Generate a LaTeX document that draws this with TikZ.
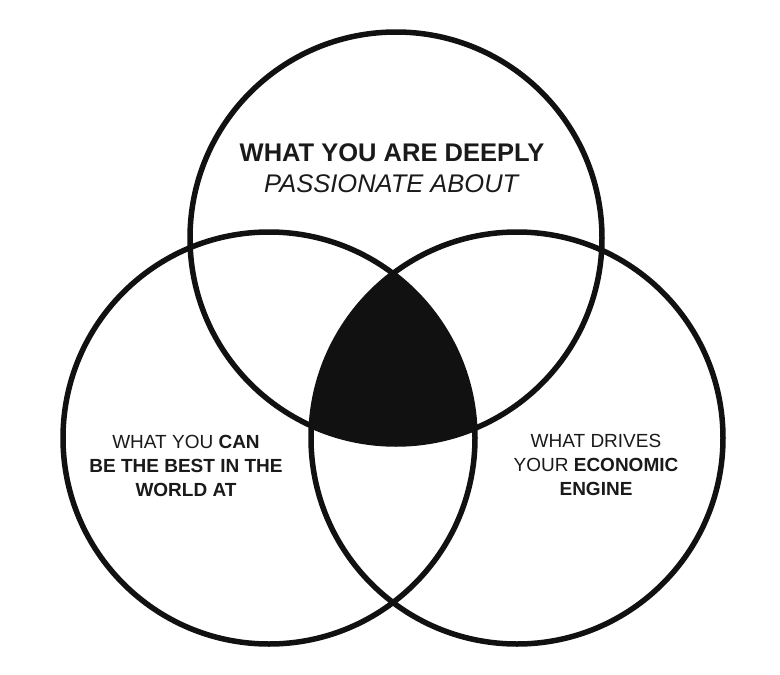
\documentclass[tikz,border=0pt]{standalone}
\usepackage{fontspec}
\setmainfont{Liberation Sans}
\begin{document}
\begin{tikzpicture}[x=1pt,y=-1pt,
  ring/.style={draw=inkc,line width=5.5pt},
  biglabel/.style={text=txtc,align=center,inner sep=0pt,font=\fontsize{25.5}{31}\selectfont},
  smalllabel/.style={text=txtc,align=center,inner sep=0pt,font=\fontsize{19}{24}\selectfont}]
\definecolor{inkc}{HTML}{111111}
\definecolor{txtc}{HTML}{1A1A1A}
\useasboundingbox (0,0) rectangle (780,675);
\fill[white] (0,0) rectangle (780,675);
\coordinate (T) at (396,238);
\coordinate (L) at (269,438);
\coordinate (R) at (517,438);
\begin{scope}
  \clip (T) circle[radius=206];
  \clip (L) circle[radius=206];
  \fill[inkc] (R) circle[radius=206];
\end{scope}
\draw[ring] (T) circle[radius=206];
\draw[ring] (L) circle[radius=206];
\draw[ring] (R) circle[radius=206];
\node[biglabel] (top) at (392,168) {\textbf{WHAT YOU ARE DEEPLY}\\\textit{PASSIONATE ABOUT}};
\node[smalllabel] (left) at (186,465.5) {WHAT YOU \textbf{CAN}\\\textbf{BE THE BEST IN THE}\\\textbf{WORLD AT}};
\node[smalllabel] (right) at (596,465) {WHAT DRIVES\\YOUR \textbf{ECONOMIC}\\\textbf{ENGINE}};
\end{tikzpicture}
\end{document}
